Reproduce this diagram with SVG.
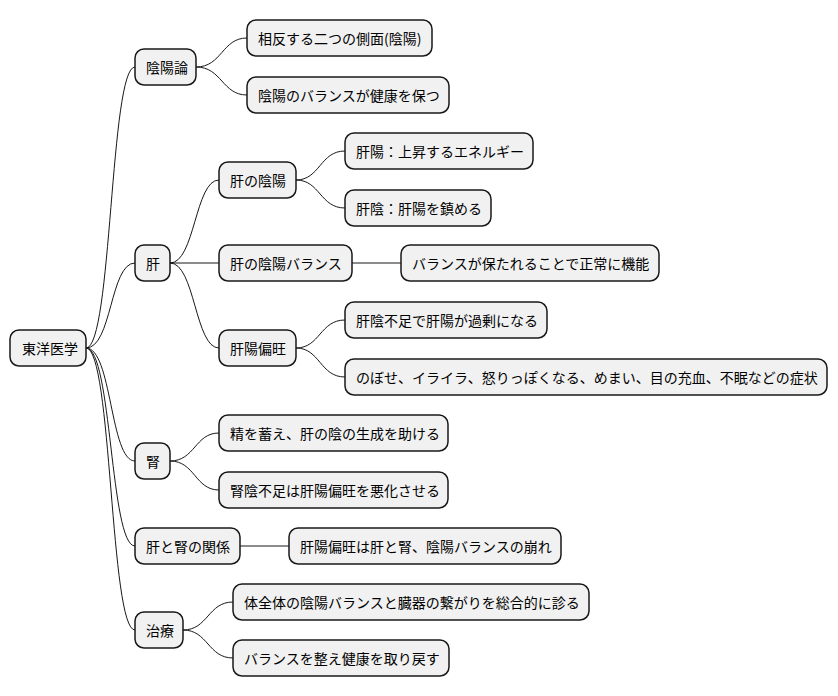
<svg xmlns="http://www.w3.org/2000/svg" width="838" height="696" viewBox="0 0 838 696">
<style>
.n rect{fill:#f1f1f1;stroke:#181818;stroke-width:1.5}
.n text{font-family:"Noto Sans CJK JP","Noto Sans",sans-serif;font-size:14px;fill:#000;dominant-baseline:central}
.c path{fill:none;stroke:#181818;stroke-width:1}
</style>
<rect width="838" height="696" fill="#fff"/>
<g class="c">
<path d="M86,348 C112,348 110,67 135,67"/>
<path d="M86,348 C112,348 110,263 135,263"/>
<path d="M86,348 C112,348 110,461 135,461"/>
<path d="M86,348 C112,348 110,546 135,546"/>
<path d="M86,348 C112,348 110,630 135,630"/>
<path d="M196,67 C222,67 222,38 247,38"/>
<path d="M196,67 C222,67 222,95 247,95"/>
<path d="M170,263 C195,263 195,180 219,180"/>
<path d="M170,263 L219,263"/>
<path d="M170,263 C195,263 195,348 219,348"/>
<path d="M296,180 C320,180 320,151 345,151"/>
<path d="M296,180 C320,180 320,208 345,208"/>
<path d="M352,263 L401,263"/>
<path d="M296,348 C320,348 320,320 345,320"/>
<path d="M296,348 C320,348 320,377 345,377"/>
<path d="M170,461 C195,461 195,433 219,433"/>
<path d="M170,461 C195,461 195,490 219,490"/>
<path d="M240,546 L289,546"/>
<path d="M183,630 C208,630 208,602 233,602"/>
<path d="M183,630 C208,630 208,658 233,658"/>
</g>
<g id="root" class="n"><rect x="10" y="330" width="76" height="36" rx="9"/><text x="22" y="348">東洋医学</text></g>
<g id="n1" class="n"><rect x="135" y="49" width="61" height="36" rx="9"/><text x="146" y="67">陰陽論</text></g>
<g id="n1a" class="n"><rect x="247" y="20" width="185" height="36" rx="9"/><text x="258" y="38">相反する二つの側面(陰陽)</text></g>
<g id="n1b" class="n"><rect x="247" y="77" width="202" height="36" rx="9"/><text x="258" y="95">陰陽のバランスが健康を保つ</text></g>
<g id="n2" class="n"><rect x="135" y="245" width="35" height="36" rx="9"/><text x="146" y="263">肝</text></g>
<g id="n2a" class="n"><rect x="219" y="162" width="77" height="36" rx="9"/><text x="230" y="180">肝の陰陽</text></g>
<g id="n2a1" class="n"><rect x="345" y="133" width="188" height="36" rx="9"/><text x="356" y="151">肝陽：上昇するエネルギー</text></g>
<g id="n2a2" class="n"><rect x="345" y="190" width="146" height="36" rx="9"/><text x="356" y="208">肝陰：肝陽を鎮める</text></g>
<g id="n2b" class="n"><rect x="219" y="245" width="133" height="36" rx="9"/><text x="230" y="263">肝の陰陽バランス</text></g>
<g id="n2b1" class="n"><rect x="401" y="245" width="258" height="36" rx="9"/><text x="412" y="263">バランスが保たれることで正常に機能</text></g>
<g id="n2c" class="n"><rect x="219" y="330" width="77" height="36" rx="9"/><text x="230" y="348">肝陽偏旺</text></g>
<g id="n2c1" class="n"><rect x="345" y="302" width="202" height="36" rx="9"/><text x="356" y="320">肝陰不足で肝陽が過剰になる</text></g>
<g id="n2c2" class="n"><rect x="345" y="359" width="482" height="36" rx="9"/><text x="356" y="377">のぼせ、イライラ、怒りっぽくなる、めまい、目の充血、不眠などの症状</text></g>
<g id="n3" class="n"><rect x="135" y="443" width="35" height="36" rx="9"/><text x="146" y="461">腎</text></g>
<g id="n3a" class="n"><rect x="219" y="415" width="229" height="36" rx="9"/><text x="230" y="433">精を蓄え、肝の陰の生成を助ける</text></g>
<g id="n3b" class="n"><rect x="219" y="472" width="229" height="36" rx="9"/><text x="230" y="490">腎陰不足は肝陽偏旺を悪化させる</text></g>
<g id="n4" class="n"><rect x="135" y="528" width="105" height="36" rx="9"/><text x="146" y="546">肝と腎の関係</text></g>
<g id="n4a" class="n"><rect x="289" y="528" width="272" height="36" rx="9"/><text x="300" y="546">肝陽偏旺は肝と腎、陰陽バランスの崩れ</text></g>
<g id="n5" class="n"><rect x="135" y="612" width="48" height="36" rx="9"/><text x="146" y="630">治療</text></g>
<g id="n5a" class="n"><rect x="233" y="584" width="356" height="36" rx="9"/><text x="244" y="602">体全体の陰陽バランスと臓器の繋がりを総合的に診る</text></g>
<g id="n5b" class="n"><rect x="233" y="640" width="216" height="36" rx="9"/><text x="244" y="658">バランスを整え健康を取り戻す</text></g>
</svg>
